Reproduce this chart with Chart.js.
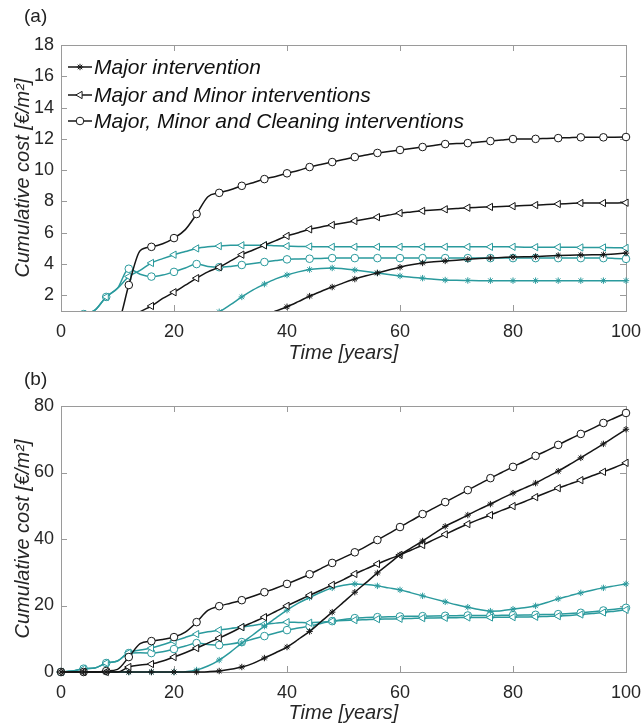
<!DOCTYPE html>
<html>
<head>
<meta charset="utf-8">
<script src="https://cdn.jsdelivr.net/npm/chart.js@4.4.1/dist/chart.umd.min.js"></script>
<style>
  body{margin:0;background:#fff;}
  canvas{display:block;}
</style>
</head>
<body>
<canvas id="chartA" width="641" height="365"></canvas>
<canvas id="chartB" width="641" height="363"></canvas>
<script>
// time axis, one value every 2 years (markers every 4 years)
const years = [0,2,4,6,8,10,12,14,16,18,20,22,24,26,28,30,32,34,36,38,40,42,44,46,48,50,
  52,54,56,58,60,62,64,66,68,70,72,74,76,78,80,82,84,86,88,90,92,94,96,98,100];

const legendLabels = ["Major intervention","Major and Minor interventions","Major, Minor and Cleaning interventions"];
const xTicks = [0,20,40,60,80,100];
const yTicksA = [2,4,6,8,10,12,14,16,18];
const yTicksB = [0,20,40,60,80];

// panel (a)
const aMajorBlack = [0,0,0,0,0,0,0,0,0,0,0,0,0,0,0,0,0.2,0.45,0.72,1.0,1.27,1.6,1.95,2.25,2.53,2.8,
  3.04,3.25,3.43,3.62,3.8,3.95,4.07,4.14,4.2,4.25,4.3,4.35,4.39,4.42,4.45,4.47,4.48,4.52,4.55,4.57,4.58,4.59,4.6,4.65,4.7];
const aMinorBlack = [0,0,0,0,0,0,0.4,0.95,1.32,1.8,2.2,2.65,3.1,3.5,3.8,4.2,4.6,4.9,5.2,5.5,5.8,6.0,6.22,6.37,6.5,6.63,
  6.75,6.88,7.0,7.13,7.26,7.33,7.4,7.45,7.5,7.55,7.6,7.63,7.65,7.68,7.7,7.74,7.77,7.8,7.84,7.87,7.9,7.9,7.9,7.9,7.92];
const aCleanBlack = [0,0,0,0,0,0.2,2.66,4.85,5.1,5.3,5.66,6.2,7.2,8.3,8.55,8.75,9.0,9.2,9.43,9.6,9.8,9.98,10.2,10.36,10.52,10.68,
  10.84,10.97,11.1,11.2,11.29,11.39,11.48,11.58,11.67,11.7,11.73,11.8,11.86,11.93,11.99,12.0,12.0,12.03,12.05,12.08,12.1,12.1,12.1,12.11,12.12];
const aMajorTeal = [0,0,0,0,0,0,0,0,0,0,0,0,0.4,0.7,0.95,1.4,1.9,2.35,2.72,3.05,3.3,3.5,3.65,3.72,3.75,3.7,
  3.62,3.53,3.43,3.33,3.24,3.16,3.1,3.03,2.98,2.96,2.95,2.94,2.94,2.94,2.94,2.94,2.94,2.94,2.94,2.94,2.94,2.94,2.94,2.94,2.94];
const aMinorTeal = [0,0.3,0.8,1.05,1.9,2.45,3.2,3.6,4.07,4.35,4.6,4.8,5.0,5.1,5.15,5.2,5.2,5.2,5.2,5.17,5.15,5.13,5.12,5.1,5.1,5.1,
  5.1,5.1,5.1,5.1,5.1,5.1,5.1,5.1,5.1,5.1,5.1,5.1,5.1,5.1,5.1,5.08,5.08,5.08,5.08,5.08,5.06,5.06,5.06,5.05,5.03];
const aCleanTeal = [0,0.3,0.8,1.05,1.9,2.45,3.7,3.35,3.2,3.3,3.5,3.75,4.0,3.85,3.8,3.85,3.94,4.03,4.13,4.22,4.3,4.32,4.34,4.36,4.38,4.38,
  4.38,4.38,4.38,4.38,4.38,4.38,4.38,4.38,4.38,4.38,4.38,4.38,4.38,4.38,4.38,4.38,4.38,4.38,4.38,4.38,4.38,4.38,4.38,4.36,4.33];

// panel (b)
const bMajorBlack = [0,0,0,0,0,0,0,0,0,0,0,0,0,0.1,0.3,0.8,1.5,2.6,4.2,5.8,7.5,9.8,12.2,15.1,18,21,
  24,26.9,29.8,32.5,35.2,37.3,39.4,41.6,43.8,45.5,47.2,48.9,50.5,52.2,53.8,55.3,56.8,58.6,60.4,62.4,64.4,66.5,68.6,70.8,73];
const bMinorBlack = [0,0,0,0,0,0,1.5,2.1,2.4,3.3,4.5,5.8,7.2,8.7,10.2,11.8,13.5,15,16.5,18.2,19.9,21.5,23.1,24.6,26.2,27.8,
  29.5,31,32.5,33.9,35.2,36.7,38.2,39.8,41.4,43,44.5,45.9,47.2,48.6,49.9,51.2,52.6,54,55.3,56.5,57.7,59,60.2,61.5,62.9];
const bCleanBlack = [0,0,0,0,0.3,0.8,4.5,8.5,9.3,9.8,10.5,12,15,18.5,19.8,20.7,21.6,22.8,24,25.2,26.5,27.9,29.4,31.1,32.8,34.4,
  36,37.8,39.7,41.6,43.6,45.5,47.5,49.3,51.1,52.9,54.7,56.5,58.3,60,61.7,63.3,65,66.6,68.3,70,71.6,73.2,74.9,76.4,77.9];
const bMajorTeal = [0,0,0,0,0,0,0,0,0,0,0,0.1,0.6,1.8,3.6,6,8.7,11.2,13.8,16.2,18.6,20.7,22.4,24,25.3,26.1,
  26.5,26.3,25.9,25.3,24.7,23.8,22.9,22,21.1,20.2,19.5,18.8,18.3,18.4,18.9,19.3,19.9,20.9,22,22.9,23.8,24.6,25.3,25.9,26.5];
const bMinorTeal = [0,0.3,1.0,1.2,2.7,3.3,5.8,6.6,7.2,8.2,9.3,10.4,11.4,12.1,12.6,13.1,13.5,14,14.4,14.7,15,14.9,14.8,15,15.3,15.5,
  15.6,15.75,15.9,15.95,16,16.1,16.2,16.25,16.3,16.35,16.4,16.4,16.4,16.45,16.5,16.55,16.6,16.7,16.8,17,17.3,17.6,17.9,18.3,18.7];
const bCleanTeal = [0,0.3,1.0,1.2,2.7,3.3,5.7,5.8,5.7,6.1,6.9,7.8,8.7,8.3,8.1,8.4,9,9.9,10.8,11.7,12.6,13.2,13.8,14.6,15.3,15.8,
  16.2,16.4,16.5,16.6,16.7,16.75,16.8,16.85,16.9,16.95,17,17,17,17.05,17.1,17.15,17.2,17.3,17.4,17.6,17.8,18.1,18.5,18.9,19.3];

const BLACK = "#151515";
const TEAL = "#2a9a9d";
const FONT = "'Liberation Sans', Arial, Helvetica, sans-serif";

const styles = [
  {pointStyle:"star", rotation:0, radius:3.2},
  {pointStyle:"triangle", rotation:-90, radius:4.2},
  {pointStyle:"circle", rotation:0, radius:3.8}
];

function series(values, color, s){
  return {
    data: years.map((x,i)=>({x, y: values[i]})),
    borderColor: color,
    borderWidth: 1.5,
    pointStyle: s.pointStyle,
    pointRotation: s.rotation,
    pointRadius: ctx => ctx.dataIndex % 2 === 0 ? s.radius : 0,
    pointHoverRadius: 0,
    pointBorderWidth: 1,
    pointBorderColor: color,
    pointBackgroundColor: s.pointStyle === "star" ? color : "#fff",
    cubicInterpolationMode: "monotone",
    fill: false
  };
}

// box, inward ticks, panel letter, in-axes legend
const framePlugin = {
  id: "frame",
  beforeDatasetsDraw(chart, args, opts){
    const {ctx, chartArea:a, scales} = chart;
    ctx.save();
    ctx.strokeStyle = "#9a9a9a";
    ctx.lineWidth = 1;
    ctx.strokeRect(Math.round(a.left)+0.5, Math.round(a.top)+0.5, Math.round(a.right-a.left), Math.round(a.bottom-a.top));
    ctx.beginPath();
    scales.x.ticks.forEach(t=>{
      const px = Math.round(scales.x.getPixelForValue(t.value))+0.5;
      ctx.moveTo(px, a.bottom); ctx.lineTo(px, a.bottom-6);
      ctx.moveTo(px, a.top); ctx.lineTo(px, a.top+6);
    });
    scales.y.ticks.forEach(t=>{
      const py = Math.round(scales.y.getPixelForValue(t.value))+0.5;
      ctx.moveTo(a.left, py); ctx.lineTo(a.left+6, py);
      ctx.moveTo(a.right, py); ctx.lineTo(a.right-6, py);
    });
    ctx.stroke();
    ctx.fillStyle = "#222";
    ctx.font = "19px " + FONT;
    ctx.textBaseline = "middle";
    ctx.fillText(opts.letter, 24, opts.letterY);
    ctx.restore();
  },
  afterDraw(chart, args, opts){
    if(!opts.legend) return;
    const {ctx, chartArea:a} = chart;
    const rows = [22, 50, 76];
    ctx.save();
    legendLabels.forEach((label,i)=>{
      const ds = chart.data.datasets[i];
      const y = a.top + rows[i];
      ctx.strokeStyle = BLACK;
      ctx.lineWidth = 1.5;
      ctx.beginPath();
      ctx.moveTo(a.left+7, y); ctx.lineTo(a.left+31, y);
      ctx.stroke();
      ctx.lineWidth = 1;
      ctx.fillStyle = ds.pointBackgroundColor;
      Chart.helpers.drawPoint(ctx, {pointStyle: ds.pointStyle, rotation: ds.pointRotation, radius: styles[i].radius, borderWidth: 1}, a.left+19, y);
      ctx.fillStyle = "#111";
      ctx.font = "italic 21px " + FONT;
      ctx.textBaseline = "middle";
      ctx.fillText(label, a.left+33, y+1);
    });
    ctx.restore();
  }
};

function makeChart(id, vals, yMin, yMax, yTicks, pad, xH, clipBottom, letterY, legend){
  const datasets = [
    series(vals[0], BLACK, styles[0]),
    series(vals[1], BLACK, styles[1]),
    series(vals[2], BLACK, styles[2]),
    series(vals[3], TEAL, styles[0]),
    series(vals[4], TEAL, styles[1]),
    series(vals[5], TEAL, styles[2])
  ];
  datasets.forEach(d=>{ d.clip = {left:6, right:8, top:6, bottom:clipBottom}; });
  return new Chart(document.getElementById(id), {
    type: "line",
    data: { datasets },
    plugins: [framePlugin],
    options: {
      responsive: false,
      animation: false,
      devicePixelRatio: 1,
      layout: { padding: { top: pad.top, right: pad.right, left: 0, bottom: pad.bottom } },
      plugins: {
        legend: { display: false },
        tooltip: { enabled: false },
        frame: { letter: letterY.text, letterY: letterY.y, legend }
      },
      scales: {
        x: {
          type: "linear", min: 0, max: 100,
          afterBuildTicks: s => { s.ticks = xTicks.map(v=>({value:v})); },
          afterFit: s => { s.height = xH; s.paddingLeft = 0; s.paddingRight = 0; },
          grid: { display: false, drawTicks: false },
          border: { display: false },
          ticks: { color: "#262626", font: { size: 18, family: FONT }, padding: 10, maxRotation: 0 },
          title: { display: true, text: "Time [years]", color: "#262626", font: { size: 20, style: "italic", family: FONT }, padding: 0 }
        },
        y: {
          type: "linear", min: yMin, max: yMax,
          afterBuildTicks: s => { s.ticks = yTicks.map(v=>({value:v})); },
          afterFit: s => { s.width = 61; s.paddingTop = 0; s.paddingBottom = 0; },
          grid: { display: false, drawTicks: false },
          border: { display: false },
          ticks: { color: "#262626", font: { size: 18, family: FONT }, padding: 7 },
          title: { display: true, text: "Cumulative cost [€/m²]", color: "#262626", font: { size: 20, style: "italic", family: FONT }, padding: { top: 11, bottom: 0 } }
        }
      }
    }
  });
}

makeChart("chartA", [aMajorBlack,aMinorBlack,aCleanBlack,aMajorTeal,aMinorTeal,aCleanTeal],
  1, 18, yTicksA, {top:45, right:15, bottom:0}, 54, 0, {text:"(a)", y:17}, true);
makeChart("chartB", [bMajorBlack,bMinorBlack,bCleanBlack,bMajorTeal,bMinorTeal,bCleanTeal],
  0, 80, yTicksB, {top:41, right:15, bottom:3}, 53, 6, {text:"(b)", y:15}, false);
</script>
</body>
</html>
